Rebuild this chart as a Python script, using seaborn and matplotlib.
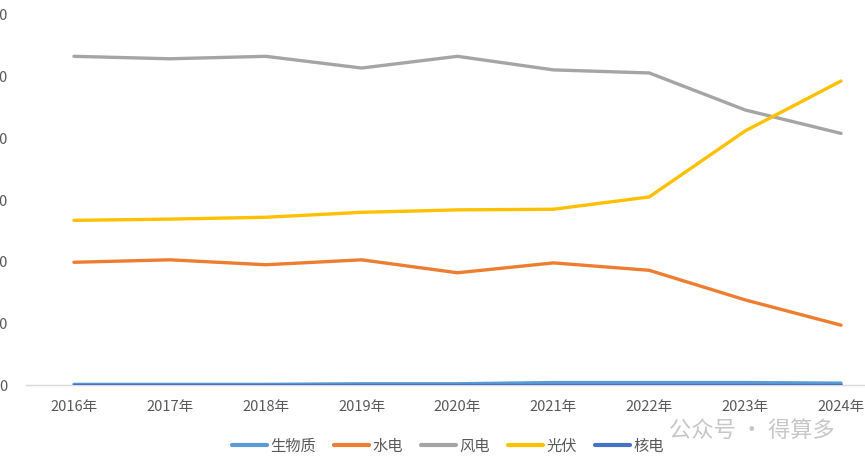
import matplotlib
matplotlib.use("Agg")
import matplotlib.pyplot as plt
import seaborn as sns
import pandas as pd

# share of new capacity by source
years = ["2016年", "2017年", "2018年", "2019年", "2020年", "2021年", "2022年", "2023年", "2024年"]
biomass = [0.1, 0.1, 0.1, 0.2, 0.2, 0.4, 0.4, 0.4, 0.3]
hydro = [19.9, 20.3, 19.5, 20.3, 18.2, 19.8, 18.6, 13.8, 9.7]
wind = [53.3, 52.9, 53.3, 51.4, 53.3, 51.1, 50.6, 44.6, 40.8]
solar = [26.7, 26.9, 27.2, 28.0, 28.4, 28.5, 30.5, 41.2, 49.3]
nuclear = [0.05, 0.05, 0.05, 0.05, 0.05, 0.05, 0.05, 0.05, 0.05]
series_names = ["生物质", "水电", "风电", "光伏", "核电"]
y_ticks = [0, 10, 20, 30, 40, 50, 60]

colors = ["#5B9BD5", "#ED7D31", "#A5A5A5", "#FFC000", "#4472C4"]

sns.set_style("white")
plt.rcParams["font.family"] = ["Noto Sans CJK SC", "DejaVu Sans"]

rows = []
for name, vals in zip(series_names, [biomass, hydro, wind, solar, nuclear]):
    for i, v in enumerate(vals):
        rows.append({"idx": i, "value": v, "series": name})
df = pd.DataFrame(rows)

fig = plt.figure(figsize=(8.65, 4.65), dpi=100)
ax = fig.add_axes([26 / 865, 80 / 465, 863 / 865, 370 / 465])

sns.lineplot(data=df, x="idx", y="value", hue="series", hue_order=series_names,
             palette=colors, linewidth=2.4, legend=False, ax=ax,
             solid_capstyle="round", solid_joinstyle="round")

ax.set_xlim(-0.5, len(years) - 0.5)
ax.set_ylim(0, 60)
ax.set_xticks(range(len(years)))
ax.set_xticklabels(years)
ax.set_xticks([i + 0.5 for i in range(len(years) - 1)], minor=True)
ax.set_yticks(y_ticks)
ax.set_xlabel("")
ax.set_ylabel("")

for s in ["top", "right", "left"]:
    ax.spines[s].set_visible(False)
ax.spines["bottom"].set_color("#D9D9D9")
ax.spines["bottom"].set_linewidth(1.0)
ax.spines["bottom"].set_zorder(0)

ax.tick_params(axis="x", which="major", length=0, pad=11, labelsize=10.5, labelcolor="#595959")
ax.tick_params(axis="x", which="minor", length=3, color="#EEEEEE")
ax.tick_params(axis="y", length=0, pad=13, labelsize=10.5, labelcolor="#595959")

handles = [plt.Line2D([], [], color=c, linewidth=3) for c in colors]
fig.legend(handles, series_names, loc="center", bbox_to_anchor=(448 / 865, 1 - 446 / 465),
           ncol=5, frameon=False, fontsize=11, handlelength=2.3, handletextpad=0.2,
           columnspacing=1.2, labelcolor="#595959")

# watermark
fig.text(835 / 865, 1 - 430 / 465, "公众号 · 得算多", ha="right", va="center",
         fontsize=16, color="#BDBDBD", alpha=0.85)

fig.savefig("out.png", dpi=100)
